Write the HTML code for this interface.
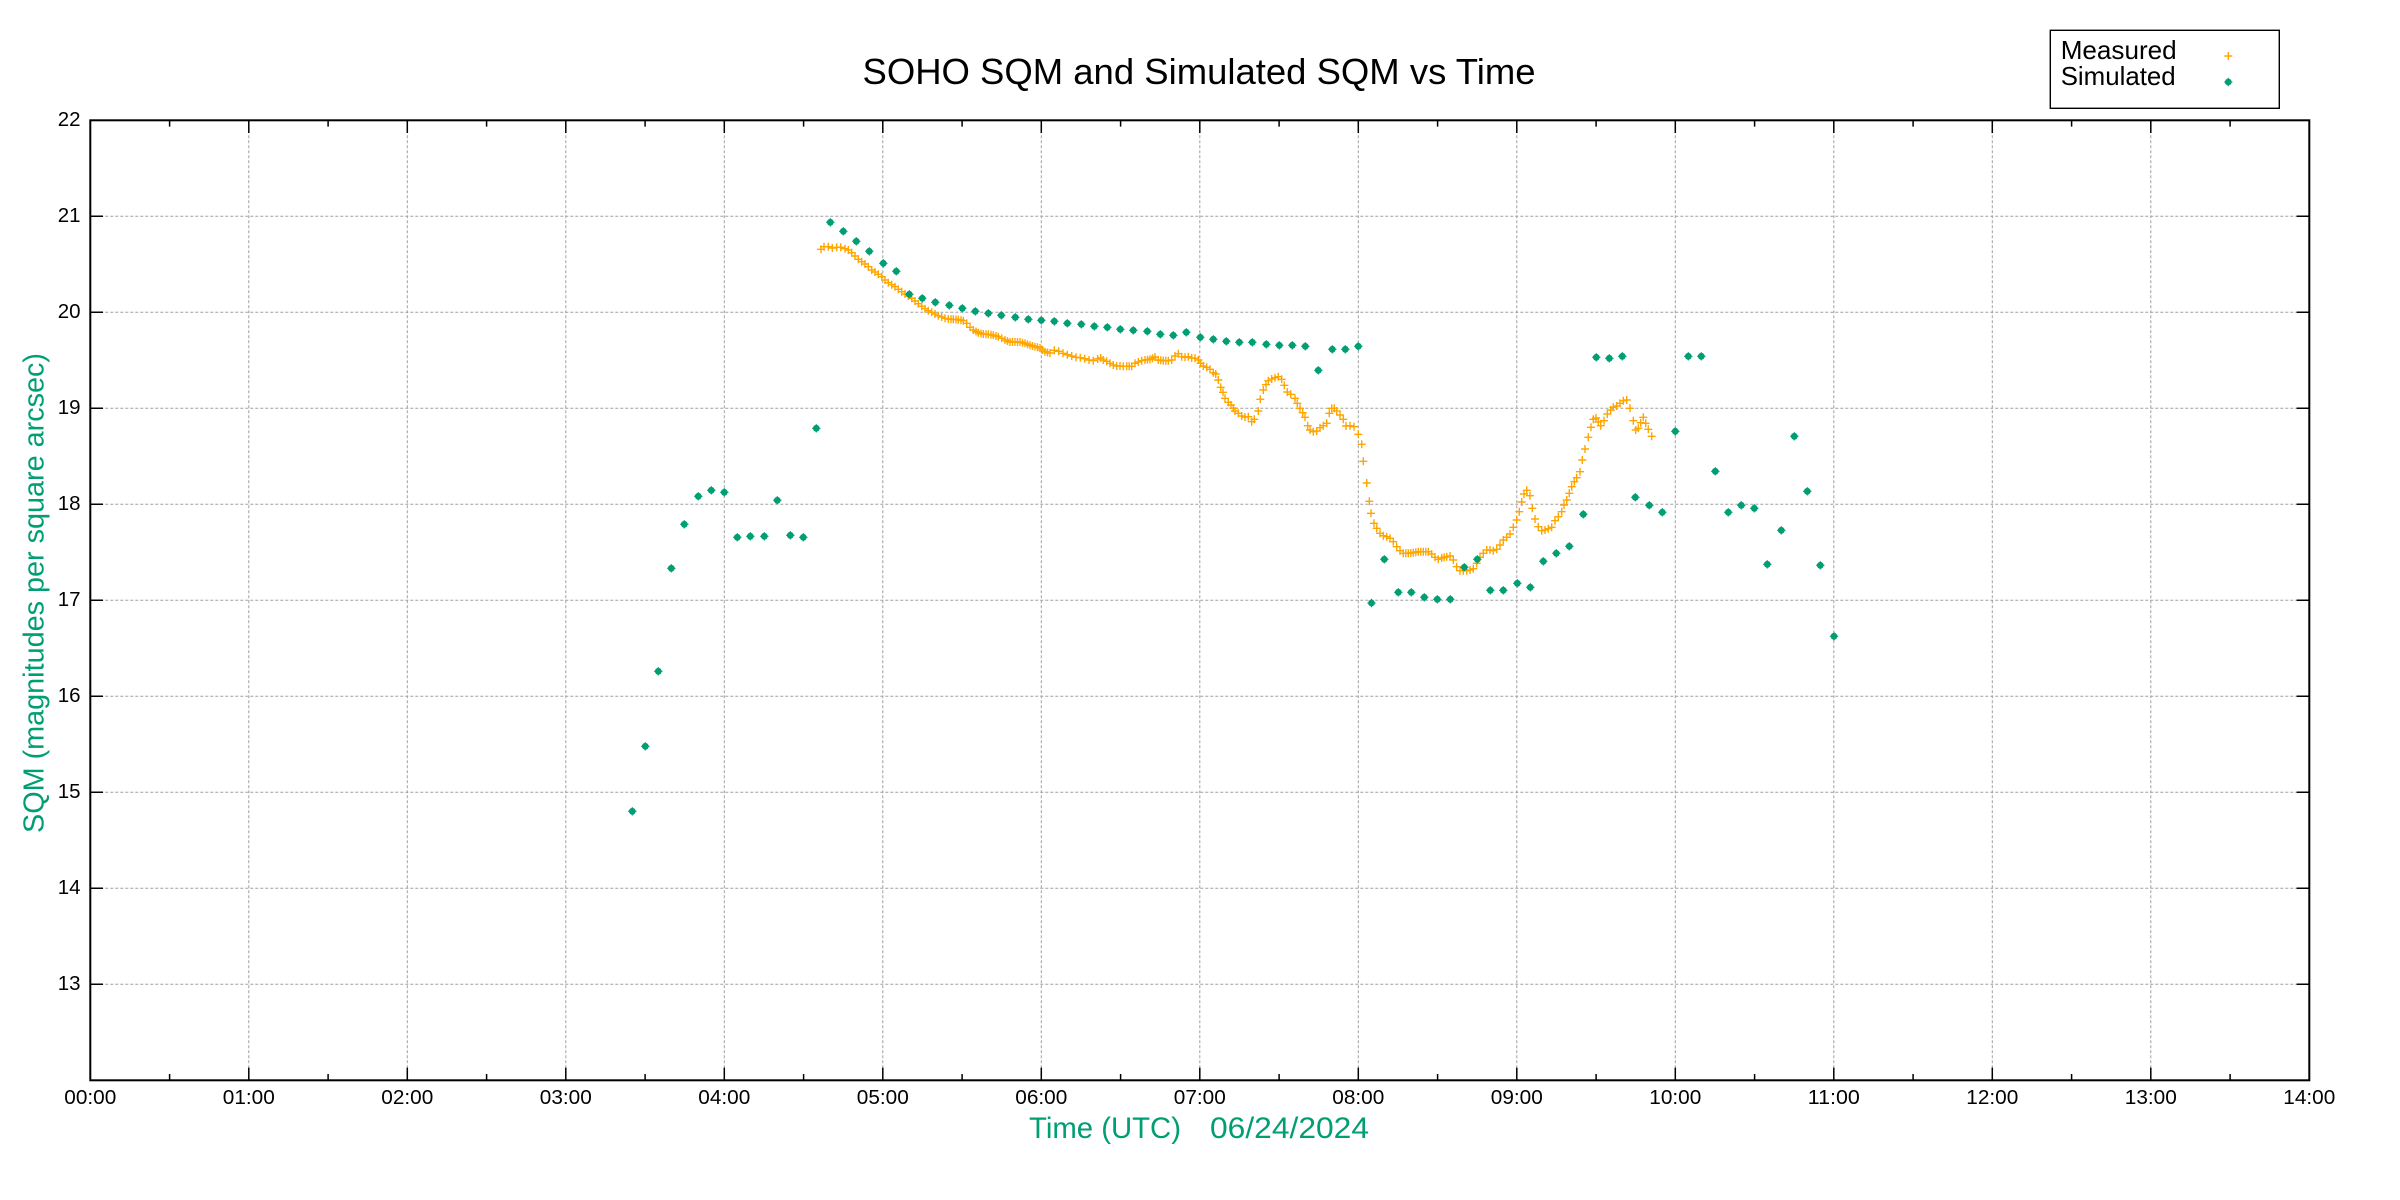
<!DOCTYPE html>
<html><head><meta charset="utf-8"><style>
html,body{margin:0;padding:0;background:#fff;}
svg{display:block;}
text{font-family:"Liberation Sans",Arial,sans-serif;}
</style></head><body>
<svg width="2400" height="1200" viewBox="0 0 2400 1200" xmlns="http://www.w3.org/2000/svg">
<defs>
<marker id="mo" markerUnits="userSpaceOnUse" viewBox="-6 -6 12 12" refX="0" refY="0" markerWidth="12" markerHeight="12" overflow="visible">
<path d="M-4 0H4M0 -4V4" stroke="#ffa500" stroke-width="1.4" fill="none"/>
</marker>
<marker id="mg" markerUnits="userSpaceOnUse" viewBox="-6 -6 12 12" refX="0" refY="0" markerWidth="12" markerHeight="12" overflow="visible">
<circle r="3.4" fill="#009e73"/>
<path d="M-4.2 0H4.2M0 -4.2V4.2" stroke="#009e73" stroke-width="1.1" fill="none"/>
</marker>
</defs>
<rect width="2400" height="1200" fill="#fff"/>

<!-- grid -->
<g stroke="#a0a0a0" stroke-width="1" stroke-dasharray="3,2" fill="none">
<path d="M248.8 120.3V1080.3M407.3 120.3V1080.3M565.8 120.3V1080.3M724.3 120.3V1080.3M882.8 120.3V1080.3M1041.3 120.3V1080.3M1199.8 120.3V1080.3M1358.3 120.3V1080.3M1516.8 120.3V1080.3M1675.3 120.3V1080.3M1833.8 120.3V1080.3M1992.3 120.3V1080.3M2150.8 120.3V1080.3"/>
<path d="M90.3 216.3H2309.3M90.3 312.3H2309.3M90.3 408.3H2309.3M90.3 504.3H2309.3M90.3 600.3H2309.3M90.3 696.3H2309.3M90.3 792.3H2309.3M90.3 888.3H2309.3M90.3 984.3H2309.3"/>
</g>

<!-- ticks -->
<g stroke="#000" stroke-width="1.5" fill="none">
<path d="M90.3 120.3h12.7M90.3 216.3h12.7M90.3 312.3h12.7M90.3 408.3h12.7M90.3 504.3h12.7M90.3 600.3h12.7M90.3 696.3h12.7M90.3 792.3h12.7M90.3 888.3h12.7M90.3 984.3h12.7M90.3 1080.3h12.7"/>
<path d="M2309.3 120.3h-12.7M2309.3 216.3h-12.7M2309.3 312.3h-12.7M2309.3 408.3h-12.7M2309.3 504.3h-12.7M2309.3 600.3h-12.7M2309.3 696.3h-12.7M2309.3 792.3h-12.7M2309.3 888.3h-12.7M2309.3 984.3h-12.7M2309.3 1080.3h-12.7"/>
<path d="M248.8 1080.3v-12.7M407.3 1080.3v-12.7M565.8 1080.3v-12.7M724.3 1080.3v-12.7M882.8 1080.3v-12.7M1041.3 1080.3v-12.7M1199.8 1080.3v-12.7M1358.3 1080.3v-12.7M1516.8 1080.3v-12.7M1675.3 1080.3v-12.7M1833.8 1080.3v-12.7M1992.3 1080.3v-12.7M2150.8 1080.3v-12.7"/>
<path d="M248.8 120.3v12.7M407.3 120.3v12.7M565.8 120.3v12.7M724.3 120.3v12.7M882.8 120.3v12.7M1041.3 120.3v12.7M1199.8 120.3v12.7M1358.3 120.3v12.7M1516.8 120.3v12.7M1675.3 120.3v12.7M1833.8 120.3v12.7M1992.3 120.3v12.7M2150.8 120.3v12.7"/>
<path d="M169.6 1080.3v-6.3M328.1 1080.3v-6.3M486.6 1080.3v-6.3M645.1 1080.3v-6.3M803.6 1080.3v-6.3M962.1 1080.3v-6.3M1120.6 1080.3v-6.3M1279.1 1080.3v-6.3M1437.6 1080.3v-6.3M1596.1 1080.3v-6.3M1754.6 1080.3v-6.3M1913.1 1080.3v-6.3M2071.6 1080.3v-6.3M2230.1 1080.3v-6.3"/>
<path d="M169.6 120.3v6.3M328.1 120.3v6.3M486.6 120.3v6.3M645.1 120.3v6.3M803.6 120.3v6.3M962.1 120.3v6.3M1120.6 120.3v6.3M1279.1 120.3v6.3M1437.6 120.3v6.3M1596.1 120.3v6.3M1754.6 120.3v6.3M1913.1 120.3v6.3M2071.6 120.3v6.3M2230.1 120.3v6.3"/>
</g>

<!-- border -->
<rect x="90.3" y="120.3" width="2219" height="960" fill="none" stroke="#000" stroke-width="2"/>

<!-- y tick labels -->
<g font-size="20.5" text-anchor="end" fill="#000">
<text x="80.5" y="126">22</text>
<text x="80.5" y="222">21</text>
<text x="80.5" y="318">20</text>
<text x="80.5" y="414">19</text>
<text x="80.5" y="510">18</text>
<text x="80.5" y="606">17</text>
<text x="80.5" y="702">16</text>
<text x="80.5" y="798">15</text>
<text x="80.5" y="894">14</text>
<text x="80.5" y="990">13</text>
</g>

<!-- x tick labels -->
<g font-size="20" fill="#000" text-anchor="middle">
<text x="90.3" y="1104" textLength="52" lengthAdjust="spacingAndGlyphs">00:00</text>
<text x="248.8" y="1104" textLength="52" lengthAdjust="spacingAndGlyphs">01:00</text>
<text x="407.3" y="1104" textLength="52" lengthAdjust="spacingAndGlyphs">02:00</text>
<text x="565.8" y="1104" textLength="52" lengthAdjust="spacingAndGlyphs">03:00</text>
<text x="724.3" y="1104" textLength="52" lengthAdjust="spacingAndGlyphs">04:00</text>
<text x="882.8" y="1104" textLength="52" lengthAdjust="spacingAndGlyphs">05:00</text>
<text x="1041.3" y="1104" textLength="52" lengthAdjust="spacingAndGlyphs">06:00</text>
<text x="1199.8" y="1104" textLength="52" lengthAdjust="spacingAndGlyphs">07:00</text>
<text x="1358.3" y="1104" textLength="52" lengthAdjust="spacingAndGlyphs">08:00</text>
<text x="1516.8" y="1104" textLength="52" lengthAdjust="spacingAndGlyphs">09:00</text>
<text x="1675.3" y="1104" textLength="52" lengthAdjust="spacingAndGlyphs">10:00</text>
<text x="1833.8" y="1104" textLength="52" lengthAdjust="spacingAndGlyphs">11:00</text>
<text x="1992.3" y="1104" textLength="52" lengthAdjust="spacingAndGlyphs">12:00</text>
<text x="2150.8" y="1104" textLength="52" lengthAdjust="spacingAndGlyphs">13:00</text>
<text x="2309.3" y="1104" textLength="52" lengthAdjust="spacingAndGlyphs">14:00</text>
</g>

<!-- title -->
<text x="1199" y="84" font-size="36" text-anchor="middle" fill="#000" textLength="673" lengthAdjust="spacingAndGlyphs">SOHO SQM and Simulated SQM vs Time</text>

<!-- axis labels -->
<text x="1029" y="1138" font-size="30" fill="#009e73" textLength="152" lengthAdjust="spacingAndGlyphs">Time (UTC)</text>
<text x="1210" y="1138" font-size="30" fill="#009e73" textLength="159" lengthAdjust="spacingAndGlyphs">06/24/2024</text>
<text transform="translate(43.3,593) rotate(-90)" x="0" y="0" font-size="29" fill="#009e73" text-anchor="middle" textLength="480" lengthAdjust="spacingAndGlyphs">SQM (magnitudes per square arcsec)</text>

<!-- legend -->
<rect x="2050.3" y="30.3" width="229" height="78" fill="#fff" stroke="#000" stroke-width="1.4"/>
<text x="2060.7" y="59" font-size="26" fill="#000" textLength="116" lengthAdjust="spacingAndGlyphs">Measured</text>
<text x="2060.7" y="85" font-size="26" fill="#000" textLength="115" lengthAdjust="spacingAndGlyphs">Simulated</text>
<path d="M2224.3 56H2232.3M2228.3 52V60" stroke="#ffa500" stroke-width="1.4"/>
<circle cx="2228.3" cy="82" r="3.4" fill="#009e73"/>
<path d="M2224.1 82H2232.5M2228.3 77.8V86.2" stroke="#009e73" stroke-width="1.1"/>

<!-- measured series -->
<polyline fill="none" stroke="none" marker-start="url(#mo)" marker-mid="url(#mo)" marker-end="url(#mo)" points="821,249.3 824,246.7 828.3,246.7 832.3,248 836.7,247.3 840.7,247.3 845,248.7 848.3,250 851.7,252.7 855,256 858.3,259.3 861.7,261.7 865,264 868.3,266.7 871.7,270 875,272 878.3,274.3 881.7,276.7 885,280 888.3,282.7 891.7,284.7 895,286.7 898.3,289.3 901.7,291.7 905,294 908.3,296 911.7,298.3 915,301 918.3,303.7 921.7,306.3 925,308.7 928.3,310.7 931.7,312.3 935,314 938.3,315.7 941.7,317 945,318.3 948.3,319 951,319.2 953.3,319.3 956,319.5 958.3,319.7 961,320.2 963.3,320.7 966.7,323.3 970,327.3 973.3,330 976,331.5 978.3,332.7 981,333.5 983.3,334 986,334.2 988.3,334.3 991,334.8 993.3,335.3 996,336 998.3,336.7 1001.7,338.3 1005,340 1007.5,341 1010,342 1012.5,342 1015,342 1017.5,342 1020,342 1022.5,342.7 1025,343.3 1027.5,344.3 1030,345.3 1032.5,346 1035,346.7 1037.5,347.3 1040,348 1042.5,350 1045,351.7 1047.5,352.5 1050,353 1054.3,350.3 1058.7,351.3 1063,353.3 1067.3,354.7 1071.7,356 1076,357.3 1080.3,357.7 1084.7,358.7 1089,360 1093.3,360.7 1097.7,359 1100.7,358 1103.3,360 1106.7,361.3 1110,363.3 1113.3,365 1116.7,366 1120,366 1123.3,366.3 1126.7,366.3 1129.2,366.3 1131.7,366.3 1135,363.3 1138.3,362 1141.7,360.7 1145,360 1147.5,359.7 1150,359.3 1152.5,358.2 1155,357 1158.3,360 1160.8,360.3 1163.3,360.7 1165.8,360.7 1168.3,360.7 1171.7,360 1175,356 1178.3,353.7 1181.7,356.7 1185,357.3 1188.3,356.7 1191.7,358 1195,358.3 1198.3,360 1200.7,363.3 1203.3,366 1206.7,367.3 1210,369.3 1213.3,372.7 1215.7,374 1218.3,380 1220.7,387.3 1223,392.3 1225,398.3 1228.3,402.3 1231,405 1233.3,408.3 1235,411 1238.3,413.3 1241.7,416 1245,417 1248.3,416.7 1251.7,421.7 1254.3,419.3 1258.3,411 1260.3,399.3 1263.3,390 1266,384.7 1268.3,380.7 1271.7,379 1275,377.7 1278.3,376.7 1281.7,379.3 1284.3,385.3 1287.3,392 1290.7,394.3 1295,398.3 1297.3,403.3 1300,408.3 1302.7,412.7 1305,417.3 1307.7,425.7 1310,430 1313.3,431.7 1316.7,431 1320,427.7 1323.3,425.7 1326.7,423.3 1329.3,413.3 1331.7,408.3 1334.3,408.3 1336.7,411 1340,415 1343.3,419.3 1346,426 1350,425.7 1354,426.7 1358.3,434.3 1361.7,444.3 1363.3,461.3 1366.7,483 1369.3,501.3 1371,513.3 1374,523.3 1376.7,528.3 1380,533.3 1383.3,535.7 1386.7,536.7 1390,538.3 1393.3,541.7 1396.7,546.7 1400,550.7 1403.3,553.3 1405.8,553.3 1408.3,553.3 1410.8,553 1413.3,552.7 1415.8,552.2 1418.3,551.7 1420.8,551.7 1423.3,551.7 1425.8,551.7 1428.3,551.7 1431.7,554 1435,557.3 1438.3,559.3 1441.7,558 1444.2,557.3 1446.7,556.7 1450,556 1453.3,560 1456.7,566.7 1460,570.7 1463.3,570.7 1466.7,570.7 1470,570 1473.3,568.7 1476.7,563.3 1480,557.3 1483.3,553.3 1486.7,550 1490,550 1493.3,550.7 1496.7,549.3 1500,545 1503.3,540 1506.7,537.3 1510,534 1513.3,527.3 1516.7,520 1519.3,511.7 1521.7,502 1524,494 1526.7,490.3 1530,495.7 1532.3,508.3 1535,519 1538.3,526.7 1541.7,530.7 1545,530 1548.3,528.7 1551.7,527.3 1555,520.7 1558.3,516.7 1561.7,511.7 1564,505 1566.7,500 1569.3,493.3 1571.7,486.7 1574.3,481.7 1576.7,477.7 1580,471.7 1582.3,460 1585,449 1588.3,437.3 1591,427.3 1593.3,419.3 1596,418 1598.3,422 1600.7,425.7 1604,420.7 1607.3,414 1610.7,410 1613.3,407.3 1616.7,406 1620,403.3 1623.3,400.7 1626.7,400 1630,408.3 1633.3,420.7 1635.7,430 1638.3,428.3 1640.7,422.7 1643.3,417.3 1645.7,423.3 1648.3,429.3 1651.7,436.3"/>

<!-- simulated series -->
<polyline fill="none" stroke="none" marker-start="url(#mg)" marker-mid="url(#mg)" marker-end="url(#mg)" points="632.3,811.3 645.3,746.3 658.3,671.3 671.3,568.3 684.3,524.3 698.3,496.3 711.3,490.3 724.3,492.3 737.3,537.3 750.3,536.3 764.3,536.3 777.3,500.3 790.3,535.3 803.3,537.3 816.3,428.3 830.3,222.3 843.3,231.3 856.3,241.3 869.3,251.3 883.3,263.3 896.3,271.3 909.3,294.3 922.3,298.3 935.3,302.3 949.3,305.3 962.3,308.3 975.3,311.3 988.3,313.3 1001.3,315.3 1015.3,317.3 1028.3,319.3 1041.3,320.3 1054.3,321.3 1067.3,323.3 1081.3,324.3 1094.3,326.3 1107.3,327.3 1120.3,329.3 1133.3,330.3 1147.3,331.3 1160.3,334.3 1173.3,335.3 1186.3,332.3 1200.3,337.3 1213.3,339.3 1226.3,341.3 1239.3,342.3 1252.3,342.3 1266.3,344.3 1279.3,345.3 1292.3,345.3 1305.3,346.3 1318.3,370.3 1332.3,349.3 1345.3,349.3 1358.3,346.3 1371.5,603 1384.3,559.3 1398.3,592.3 1411.3,592.3 1424.3,597.3 1437.3,599.3 1450.3,599.3 1464.3,567.3 1477.3,559.3 1490.3,590.3 1503.3,590.3 1517.3,583.3 1530.3,587.3 1543.3,561.3 1556.3,553.3 1569.3,546.3 1583.3,514.3 1596.3,357.3 1609.3,358.3 1622.3,356.3 1635.3,497.3 1649.3,505.3 1662.3,512.3 1675.3,431.3 1688.3,356.3 1701.3,356.3 1715.3,471.3 1728.3,512.3 1741.3,505.3 1754.3,508.3 1767.3,564.3 1781.3,530.3 1794.3,436.3 1807.3,491.3 1820.3,565.3 1834,636.3"/>
</svg>
</body></html>
